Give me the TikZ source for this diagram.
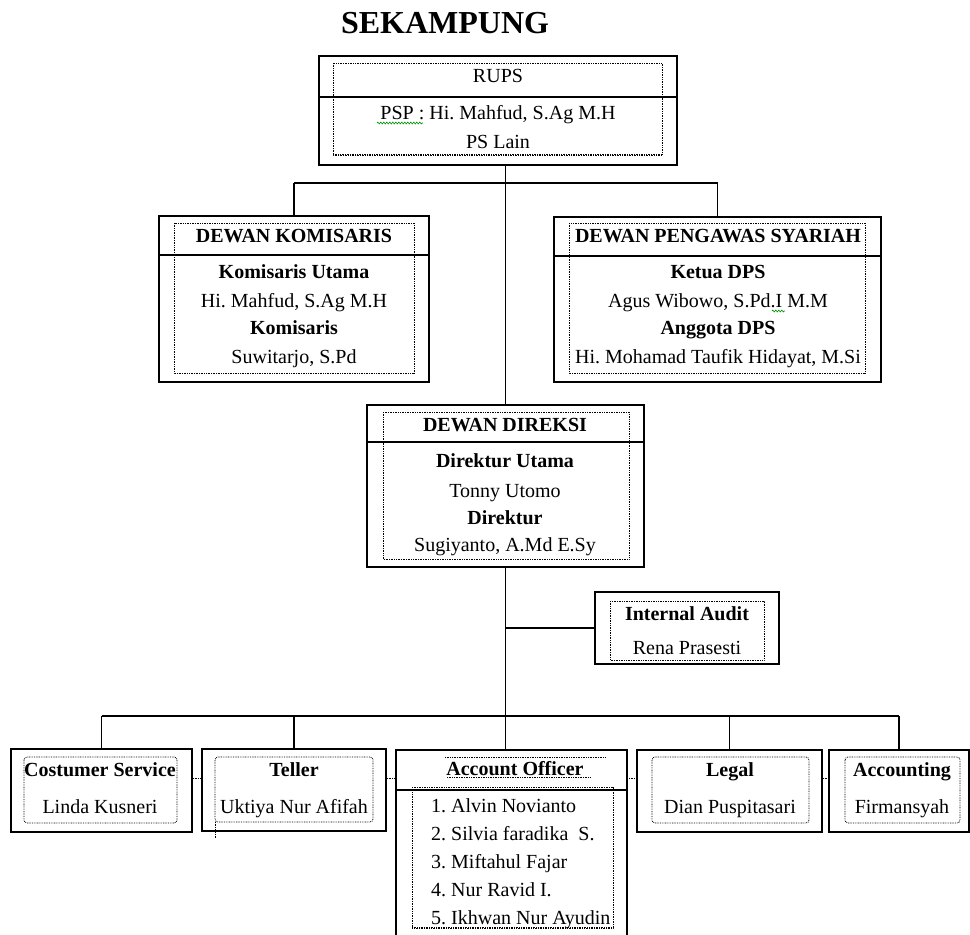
\documentclass[tikz,border=0pt]{standalone}
\usepackage{fontspec}
\setmainfont{Liberation Serif}
\usetikzlibrary{decorations.pathmorphing}
\frenchspacing
\begin{document}
\begin{tikzpicture}[x=1pt,y=-1pt,
  outer/.style={draw, line width=1.8pt, inner sep=0pt},
  openbox/.style={inner sep=0pt},
  conn/.style={line width=1.8pt},
  divline/.style={line width=1.8pt},
  dotframe/.style={line width=0.8pt, dash pattern=on 0.8pt off 0.9pt},
  dotlink/.style={line width=0.8pt, dash pattern=on 0.8pt off 0.9pt},
  lbl/.style={anchor=base, inner sep=0pt, font=\fontsize{20}{24}\selectfont},
  blbl/.style={anchor=base, inner sep=0pt, font=\fontsize{20}{24}\selectfont\bfseries},
  llbl/.style={anchor=base west, inner sep=0pt, font=\fontsize{20}{24}\selectfont},
  squig/.style={draw=green!60!black, line width=0.6pt, decorate, decoration={zigzag, segment length=3pt, amplitude=1pt}}
]
\useasboundingbox (0,0) rectangle (970,935);

% title
\node[anchor=base, inner sep=0pt, font=\fontsize{32}{36}\selectfont\bfseries] (title) at (445,33) {SEKAMPUNG};

% ---------- outer boxes ----------
\node[outer, minimum width=358pt, minimum height=109pt] (rups) at (498,110.5) {};
\node[outer, minimum width=270pt, minimum height=166pt] (kom) at (294,299) {};
\node[outer, minimum width=327pt, minimum height=165pt] (dps) at (717.5,299.5) {};
\node[outer, minimum width=277pt, minimum height=162pt] (dir) at (505.5,486) {};
\node[outer, minimum width=184pt, minimum height=72pt] (audit) at (687,628) {};
\node[outer, minimum width=181pt, minimum height=83pt] (cs) at (101.5,790.5) {};
\node[outer, minimum width=184pt, minimum height=82pt] (teller) at (294,790) {};
\node[openbox, minimum width=231pt, minimum height=185pt] (ao) at (511.5,842.5) {};
\node[outer, minimum width=185pt, minimum height=82pt] (legal) at (729.5,791) {};
\node[outer, minimum width=140pt, minimum height=82pt] (acc) at (899,791) {};
\draw[divline] (ao.south west) -- (ao.north west) -- (ao.north east) -- (ao.south east);

% dividers
\draw[divline] (rups.west |- 0,97) -- (rups.east |- 0,97);
\draw[divline] (kom.west |- 0,255) -- (kom.east |- 0,255);
\draw[divline] (dps.west |- 0,256) -- (dps.east |- 0,256);
\draw[divline] (dir.west |- 0,442) -- (dir.east |- 0,442);
\draw[divline] (ao.west |- 0,790) -- (ao.east |- 0,790);

% ---------- inner dotted frames ----------
\draw[dotframe] (333,63) rectangle (662,155);
\draw[dotframe] (333,154) -- (662,154);
\draw[dotframe] (174,223) rectangle (414,373);
\draw[dotframe] (569,223) rectangle (865,373);
\draw[dotframe] (383,412) rectangle (629,559);
\draw[dotframe] (610,601) rectangle (764,660);
\draw[dotframe, rounded corners=3pt] (24,757) rectangle (177,823);
\draw[dotframe, rounded corners=3pt] (215,757) rectangle (373,822);
\draw[dotframe] (215,822) -- (215,838);
\draw[dotframe] (445,757) -- (605,757);
\draw[dotframe] (447,777) -- (590,777);
\draw[dotframe] (412,787) rectangle (613,928);
\draw[dotframe] (412,927) -- (613,927);
\draw[dotframe, rounded corners=3pt] (652,757) rectangle (809,823);
\draw[dotframe, rounded corners=3pt] (845,757) rectangle (960,823);

% ---------- texts ----------
\node[lbl] (t-rups) at (498,82) {RUPS};
\node[lbl] (t-psp) at (498,119) {PSP : Hi. Mahfud, S.Ag M.H};
\node[lbl] (t-pslain) at (498,148) {PS Lain};
\draw[squig] (377,123) -- (423,123);

\node[blbl] (t-kom) at (294,242) {DEWAN KOMISARIS};
\node[blbl] (t-kom1) at (294,278) {Komisaris Utama};
\node[lbl] (t-kom2) at (294,307) {Hi. Mahfud, S.Ag M.H};
\node[blbl] (t-kom3) at (294,334) {Komisaris};
\node[lbl] (t-kom4) at (294,363) {Suwitarjo, S.Pd};

\node[blbl] (t-dps) at (718,242) {DEWAN PENGAWAS SYARIAH};
\node[blbl] (t-dps1) at (718,278) {Ketua DPS};
\node[lbl] (t-dps2) at (718,307) {Agus Wibowo, S.Pd.I M.M};
\node[blbl] (t-dps3) at (718,334) {Anggota DPS};
\node[lbl] (t-dps4) at (718,363) {Hi. Mohamad Taufik Hidayat, M.Si};
\draw[squig] (772,311) -- (785,311);

\node[blbl] (t-dir) at (505,431) {DEWAN DIREKSI};
\node[blbl] (t-dir1) at (505,467) {Direktur Utama};
\node[lbl] (t-dir2) at (505,497) {Tonny Utomo};
\node[blbl] (t-dir3) at (505,524) {Direktur};
\node[lbl] (t-dir4) at (505,551) {Sugiyanto, A.Md E.Sy};

\node[blbl] (t-audit) at (687,620) {Internal Audit};
\node[lbl] (t-audit1) at (687,654) {Rena Prasesti};

\node[blbl] (t-cs) at (100,776) {Costumer Service};
\node[lbl] (t-cs1) at (100,813) {Linda Kusneri};
\node[blbl] (t-tel) at (294,776) {Teller};
\node[lbl] (t-tel1) at (294,813) {Uktiya Nur Afifah};
\node[blbl] (t-ao) at (515,775) {Account Officer};
\node[llbl] (t-ao1) at (431,812) {1. Alvin Novianto};
\node[llbl] (t-ao2) at (431,840) {2. Silvia faradika\ \ S.};
\node[llbl] (t-ao3) at (431,868) {3. Miftahul Fajar};
\node[llbl] (t-ao4) at (431,896) {4. Nur Ravid I.};
\node[llbl] (t-ao5) at (431,924) {5. Ikhwan Nur Ayudin};
\node[blbl] (t-leg) at (730,776) {Legal};
\node[lbl] (t-leg1) at (730,813) {Dian Puspitasari};
\node[blbl] (t-acc) at (902,776) {Accounting};
\node[lbl] (t-acc1) at (902,813) {Firmansyah};

% ---------- connectors ----------
\coordinate (j1) at (505,183);
\coordinate (j2) at (505,716);
\draw[conn] (rups.south -| dir.north) -- (dir.north);
\draw[conn] (kom.north |- j1) -- (dps.north |- j1);
\draw[conn] (kom.north |- j1) -- (kom.north);
\draw[conn] (dps.north |- j1) -- (dps.north);
\draw[conn] (dir.south) -- (dir.south |- ao.north);
\draw[conn] (dir.south |- audit.west) -- (audit.west);
\draw[conn] (cs.north |- j2) -- (acc.north |- j2);
\draw[conn] (cs.north |- j2) -- (cs.north);
\draw[conn] (teller.north |- j2) -- (teller.north);
\draw[conn] (legal.north |- j2) -- (legal.north);
\draw[conn] (acc.north |- j2) -- (acc.north);

% dotted links between bottom boxes
\draw[dotlink] (cs.east |- 0,778) -- (teller.west |- 0,778);
\draw[dotlink] (teller.east |- 0,778) -- (ao.west |- 0,778);
\draw[dotlink] (ao.east |- 0,778) -- (legal.west |- 0,778);
\draw[dotlink] (legal.east |- 0,778) -- (acc.west |- 0,778);
\end{tikzpicture}
\end{document}
